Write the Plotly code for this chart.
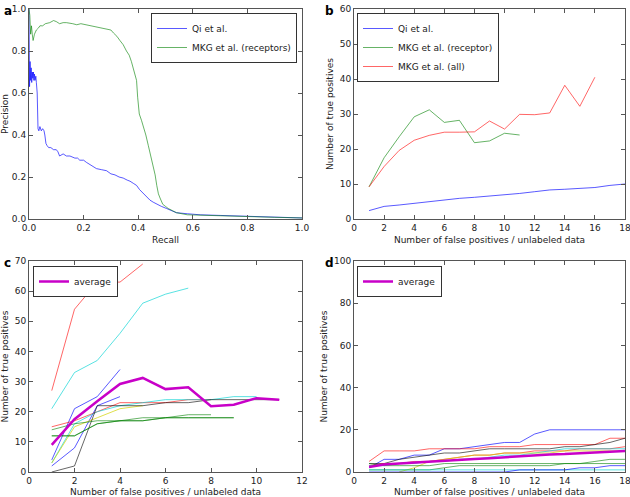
import plotly.graph_objects as go

W, H = 630, 497

# ---------- Panel a: precision-recall ----------
qi_recall = [0.0, 0.002, 0.004, 0.006, 0.008, 0.010, 0.012, 0.014, 0.016, 0.018, 0.020, 0.022, 0.025, 0.027,
             0.030, 0.033, 0.036, 0.040, 0.045, 0.050, 0.055, 0.058, 0.062, 0.066, 0.072, 0.080, 0.090,
             0.100, 0.106, 0.112, 0.125, 0.137, 0.150, 0.168, 0.178, 0.186, 0.200, 0.210, 0.230, 0.247,
             0.265, 0.284, 0.300, 0.315, 0.330, 0.345, 0.360, 0.370, 0.382, 0.394, 0.405, 0.420, 0.432,
             0.443, 0.455, 0.468, 0.485, 0.504, 0.520, 0.540, 0.580, 0.627, 0.700, 0.750, 0.800, 0.870,
             0.940, 1.0]
qi_prec = [1.0, 0.63, 0.75, 0.66, 0.72, 0.65, 0.70, 0.67, 0.70, 0.66, 0.69, 0.66, 0.68, 0.65,
           0.60, 0.43, 0.42, 0.44, 0.42, 0.43, 0.42, 0.40, 0.36, 0.35, 0.34, 0.34, 0.33,
           0.33, 0.32, 0.30, 0.31, 0.30, 0.30, 0.29, 0.29, 0.28, 0.28, 0.27, 0.255, 0.24,
           0.235, 0.23, 0.215, 0.21, 0.20, 0.195, 0.185, 0.18, 0.17, 0.16, 0.14, 0.12, 0.105,
           0.09, 0.08, 0.07, 0.06, 0.05, 0.04, 0.03, 0.025, 0.02, 0.017, 0.015, 0.012, 0.01,
           0.008, 0.005]

mkg_recall = [0.0, 0.003, 0.006, 0.009, 0.012, 0.015, 0.020, 0.027, 0.035, 0.040, 0.050, 0.060, 0.076,
              0.090, 0.100, 0.112, 0.125, 0.137, 0.160, 0.175, 0.190, 0.210, 0.240, 0.260, 0.280,
              0.300, 0.310, 0.322, 0.333, 0.345, 0.357, 0.367, 0.375, 0.382, 0.388, 0.394, 0.398,
              0.404, 0.412, 0.420, 0.428, 0.437, 0.446, 0.455, 0.462, 0.468, 0.474, 0.480, 0.490,
              0.500, 0.510, 0.525, 0.540, 0.580, 0.690, 0.810, 0.900, 1.0]
mkg_prec = [1.0, 0.97, 0.88, 0.92, 0.88, 0.85, 0.88, 0.90, 0.91, 0.92, 0.92, 0.93, 0.935,
            0.945, 0.94, 0.93, 0.935, 0.935, 0.93, 0.925, 0.93, 0.925, 0.915, 0.91, 0.905,
            0.90, 0.885, 0.87, 0.85, 0.83, 0.80, 0.78, 0.75, 0.72, 0.69, 0.66, 0.58,
            0.50, 0.47, 0.44, 0.40, 0.35, 0.30, 0.25, 0.21, 0.16, 0.12, 0.10, 0.07,
            0.06, 0.05, 0.04, 0.03, 0.02, 0.015, 0.01, 0.008, 0.005]

# ---------- Panel b ----------
b_x_qi = list(range(1, 19))
b_qi = [2.4, 3.6, 4.0, 4.5, 4.9, 5.5, 5.9, 6.2, 6.5, 7.0, 7.3, 7.8, 8.3, 8.5, 8.8, 9.0, 9.6, 10.0]
b_x_rec = list(range(1, 12))
b_rec = [9.2, 17.5, 23.5, 29.2, 31.2, 27.6, 28.2, 21.8, 22.3, 24.5, 24.0]
b_x_all = list(range(1, 17))
b_all = [9.2, 15.0, 19.6, 22.5, 23.9, 24.8, 24.8, 24.9, 28.0, 25.7, 29.9, 29.8, 30.3, 38.2, 32.2, 40.5]

# ---------- Panel c ----------
c_lines = [
    ("red",    [27, 54, 63, 63, 69]),
    ("cyan",   [21, 33, 37, 46, 56, 59, 61]),
    ("blue",   [4, 21, 25, 34]),
    ("blue",   [2, 8, 22, 25]),
    ("red",    [15, 17, 20, 23, 23, 23, 24, 24]),
    ("cyan",   [3, 16, 20, 22, 23, 24, 24, 24, 25, 25]),
    ("yellow", [3, 15, 18, 21, 22]),
    ("black",  [0, 2, 22, 22, 22, 23, 23, 24, 24, 24, 24]),
    ("green",  [14, 16, 17, 17, 18, 18, 19, 19]),
    ("green",  [12, 12, 16, 17, 17, 18, 18, 18, 18]),
    ("green",  [12, 12, 16, 17, 17, 18, 18, 18, 18]),
]
c_avg = [9.0, 17.5, 23.5, 29.2, 31.2, 27.5, 28.1, 21.8, 22.3, 24.5, 24.0]

# ---------- Panel d ----------
d_lines = [
    ("blue",   [2, 6, 6, 8, 8, 11, 11, 12, 13, 14, 14, 18, 20, 20, 20, 20, 20, 20]),
    ("red",    [5, 10, 10, 10, 11, 11, 11, 11, 12, 12, 12, 13, 13, 13, 13, 13, 16, 16]),
    ("black",  [4, 4, 6, 7, 8, 9, 9, 10, 11, 11, 11, 11, 11, 12, 12, 13, 14, 16]),
    ("red",    [3, 4, 4, 5, 5, 6, 7, 8, 8, 9, 9, 10, 10, 10, 11, 11, 11, 12]),
    ("cyan",   [3, 3, 4, 4, 5, 5, 6, 6, 7, 8, 8, 9, 10, 11, 11, 11, 11, 11]),
    ("yellow", [None, None, 0, 2, 5, 6, 7, 8, 8, 9, 9, 9, 9, 10, 10, 10, 10, 10]),
    ("green",  [4, 3, 3, 3, 3, 4, 4, 4, 4, 4, 4, 4, 4, 4, 4, 4, 4, 4]),
    ("green",  [1, 1, 1, 1, 1, 2, 3, 3, 3, 3, 3, 3, 3, 4, 4, 5, 6, 6]),
    ("cyan",   [1, 1, 1, 1, 1, 1, 1, 1, 1, 1, 1, 1, 1, 1, 1, 1, 1, 1]),
    ("blue",   [0, 0, 0, 0, 0, 0, 0, 0, 0, 0, 1, 1, 1, 1, 2, 2, 3, 3]),
]
d_avg = [2.4, 3.6, 4.0, 4.5, 4.9, 5.5, 5.9, 6.2, 6.5, 7.0, 7.3, 7.8, 8.3, 8.5, 8.8, 9.0, 9.6, 10.0]

COL = {
    "blue": "rgba(0,0,255,0.65)",
    "green": "rgba(0,128,0,0.6)",
    "red": "rgba(255,0,0,0.6)",
    "cyan": "rgba(0,210,210,0.65)",
    "yellow": "rgba(210,210,0,0.7)",
    "black": "rgba(0,0,0,0.6)",
}
MAG = "rgb(200,0,200)"

def px(x):
    return x / W

def py(y):
    return 1 - y / H

fig = go.Figure()

# panel a
fig.add_trace(go.Scatter(x=qi_recall, y=qi_prec, mode="lines", name="Qi et al.",
                         line=dict(color=COL["blue"], width=1), xaxis="x", yaxis="y", legend="legend"))
fig.add_trace(go.Scatter(x=mkg_recall, y=mkg_prec, mode="lines", name="MKG et al. (receptors)",
                         line=dict(color=COL["green"], width=1), xaxis="x", yaxis="y", legend="legend"))
# panel b
fig.add_trace(go.Scatter(x=b_x_qi, y=b_qi, mode="lines", name="Qi et al.",
                         line=dict(color=COL["blue"], width=1), xaxis="x2", yaxis="y2", legend="legend2"))
fig.add_trace(go.Scatter(x=b_x_rec, y=b_rec, mode="lines", name="MKG et al. (receptor)",
                         line=dict(color=COL["green"], width=1), xaxis="x2", yaxis="y2", legend="legend2"))
fig.add_trace(go.Scatter(x=b_x_all, y=b_all, mode="lines", name="MKG et al. (all)",
                         line=dict(color=COL["red"], width=1), xaxis="x2", yaxis="y2", legend="legend2"))
# panel c
for c, vals in c_lines:
    fig.add_trace(go.Scatter(x=list(range(1, len(vals) + 1)), y=vals, mode="lines",
                             line=dict(color=COL[c], width=1), showlegend=False,
                             xaxis="x3", yaxis="y3"))
fig.add_trace(go.Scatter(x=list(range(1, len(c_avg) + 1)), y=c_avg, mode="lines", name="average",
                         line=dict(color=MAG, width=2.5), xaxis="x3", yaxis="y3", legend="legend3"))
# panel d
for c, vals in d_lines:
    fig.add_trace(go.Scatter(x=list(range(1, len(vals) + 1)), y=vals, mode="lines",
                             line=dict(color=COL[c], width=1), showlegend=False,
                             xaxis="x4", yaxis="y4"))
fig.add_trace(go.Scatter(x=list(range(1, len(d_avg) + 1)), y=d_avg, mode="lines", name="average",
                         line=dict(color=MAG, width=2.5), xaxis="x4", yaxis="y4", legend="legend4"))

FONT = dict(family="DejaVu Sans", size=9, color="#222")
axis_common = dict(showgrid=False, zeroline=False, showline=True, linecolor="#555", linewidth=1,
                   mirror="allticks", ticks="inside", ticklen=4, tickcolor="#555", automargin=False,
                   ticklabeloverflow="allow", tickfont=FONT, title_font=FONT)

dom_ax = [px(29), px(302)]
dom_bx = [px(354), px(625)]
dom_top = [py(219), py(9)]
dom_bot = [py(472), py(261)]

LEGFONT = dict(family="DejaVu Sans", size=9, color="#222")

fig.update_layout(
    width=W, height=H, margin=dict(l=0, r=0, t=0, b=0),
    paper_bgcolor="white", plot_bgcolor="white", font=FONT,
    xaxis=dict(axis_common, domain=dom_ax, anchor="y", range=[0, 1], tickvals=[0, 0.2, 0.4, 0.6, 0.8, 1.0],
               tickformat=".1f", title=dict(text="Recall", standoff=4)),
    yaxis=dict(axis_common, domain=dom_top, anchor="x", range=[0, 1], tickvals=[0, 0.2, 0.4, 0.6, 0.8, 1.0],
               tickformat=".1f", title=dict(text="Precision", standoff=4)),
    xaxis2=dict(axis_common, domain=dom_bx, anchor="y2", range=[0, 18], dtick=2,
                title=dict(text="Number of false positives / unlabeled data", standoff=4)),
    yaxis2=dict(axis_common, domain=dom_top, anchor="x2", range=[0, 60], dtick=10,
                title=dict(text="Number of true positives", standoff=4)),
    xaxis3=dict(axis_common, domain=dom_ax, anchor="y3", range=[0, 12], dtick=2,
                title=dict(text="Number of false positives / unlabeled data", standoff=6)),
    yaxis3=dict(axis_common, domain=dom_bot, anchor="x3", range=[0, 70], dtick=10,
                title=dict(text="Number of true positives", standoff=4)),
    xaxis4=dict(axis_common, domain=dom_bx, anchor="y4", range=[0, 18], dtick=2,
                title=dict(text="Number of false positives / unlabeled data", standoff=6)),
    yaxis4=dict(axis_common, domain=dom_bot, anchor="x4", range=[0, 100], dtick=20,
                title=dict(text="Number of true positives", standoff=4)),
    legend=dict(x=px(297), y=py(13), xanchor="right", yanchor="top", bordercolor="#333", borderwidth=1,
                bgcolor="white", font=LEGFONT, tracegroupgap=0, itemwidth=30),
    legend2=dict(x=px(357), y=py(13), xanchor="left", yanchor="top", bordercolor="#333", borderwidth=1,
                 bgcolor="white", font=LEGFONT, tracegroupgap=0, itemwidth=30),
    legend3=dict(x=px(33), y=py(266), xanchor="left", yanchor="top", bordercolor="#333", borderwidth=1,
                 bgcolor="white", font=LEGFONT, itemwidth=30),
    legend4=dict(x=px(357), y=py(266), xanchor="left", yanchor="top", bordercolor="#333", borderwidth=1,
                 bgcolor="white", font=LEGFONT, itemwidth=30),
)

for lab, x, y in [("a", 2, 2), ("b", 323, 2), ("c", 2, 254), ("d", 323, 254)]:
    fig.add_annotation(text="<b>%s</b>" % lab, x=px(x), y=py(y), xref="paper", yref="paper",
                       xanchor="left", yanchor="top", showarrow=False,
                       font=dict(family="DejaVu Sans", size=12, color="black"))

fig.write_html("out.html", config={"displayModeBar": False},
               post_script="document.body.style.margin='0';document.body.style.overflow='hidden';")
